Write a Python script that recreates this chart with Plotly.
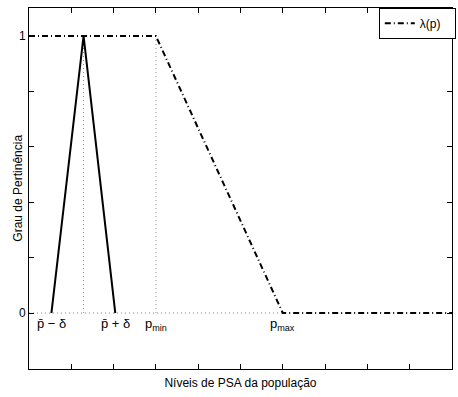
import plotly.graph_objects as go

# data
tri_x = [0.53, 1.29, 2.04]
tri_y = [0, 1, 0]
lam_x = [0, 3.0, 6.0, 10]
lam_y = [1, 1, 0, 0]
p_bar = 1.29
p_min = 3.0
p_max = 6.0
label_x = [0.53, 2.04, 3.0, 6.0]
label_text = ["p\u0304 \u2212 \u03b4", "p\u0304 + \u03b4", "p<sub>min</sub>", "p<sub>max</sub>"]
y_tickvals = [0, 1.0]
y_ticktext = ["0", "1"]
y_minor_step = 0.2
x_tickvals = list(range(0, 11))

FONT = "Liberation Sans, Arial, sans-serif"

fig = go.Figure()
dot = dict(color="#888888", width=1, dash="1px,3px")
fig.add_trace(go.Scatter(x=[p_bar, p_bar], y=[0, 1], mode="lines", line=dot, showlegend=False, hoverinfo="skip"))
fig.add_trace(go.Scatter(x=[p_min, p_min], y=[0, 1], mode="lines", line=dot, showlegend=False, hoverinfo="skip"))
fig.add_trace(go.Scatter(x=[0, p_max], y=[0, 0], mode="lines", line=dot, showlegend=False, hoverinfo="skip"))
fig.add_trace(go.Scatter(x=tri_x, y=tri_y, mode="lines", line=dict(color="black", width=2), showlegend=False))
fig.add_trace(go.Scatter(x=lam_x, y=lam_y, mode="lines", name="\u03bb(p)",
                         line=dict(color="black", width=2, dash="6px,3px,1px,3px")))

for x, t in zip(label_x, label_text):
    fig.add_annotation(x=x, y=0, xref="x", yref="y", text=t, showarrow=False,
                       yanchor="top", yshift=-1, font=dict(size=13, color="black", family=FONT))

fig.add_annotation(x=-0.028, y=0.5, xref="paper", yref="paper", text="Grau de Pertin\u00eancia",
                   textangle=-90, showarrow=False, xanchor="center", yanchor="middle",
                   font=dict(size=12, color="black", family=FONT))

fig.update_layout(
    width=458, height=397,
    margin=dict(l=29, r=2, t=8, b=28),
    plot_bgcolor="white", paper_bgcolor="white",
    font=dict(family=FONT, color="black", size=12),
    legend=dict(x=1.009, y=1.001, xanchor="right", yanchor="top", orientation="h",
                entrywidth=30, entrywidthmode="pixels",
                bordercolor="black", borderwidth=1, bgcolor="white",
                font=dict(size=12), itemwidth=30),
    showlegend=True,
)
fig.update_xaxes(range=[0, 10], tickvals=x_tickvals, showticklabels=False, ticks="inside",
                 ticklen=5, tickcolor="black", showline=True, linecolor="black", linewidth=1,
                 mirror="ticks", showgrid=False, zeroline=False,
                 title=dict(text="N\u00edveis de PSA da popula\u00e7\u00e3o", standoff=9, font=dict(size=12)))
fig.update_yaxes(range=[-0.202, 1.101], tickvals=y_tickvals, ticktext=y_ticktext, ticks="inside",
                 ticklen=5, tickcolor="black", showline=True, linecolor="black", linewidth=1,
                 minor=dict(dtick=y_minor_step, ticks="inside", ticklen=5, tickcolor="black", showgrid=False),
                 mirror="ticks", showgrid=False, zeroline=False)

fig.write_html("out.html")
